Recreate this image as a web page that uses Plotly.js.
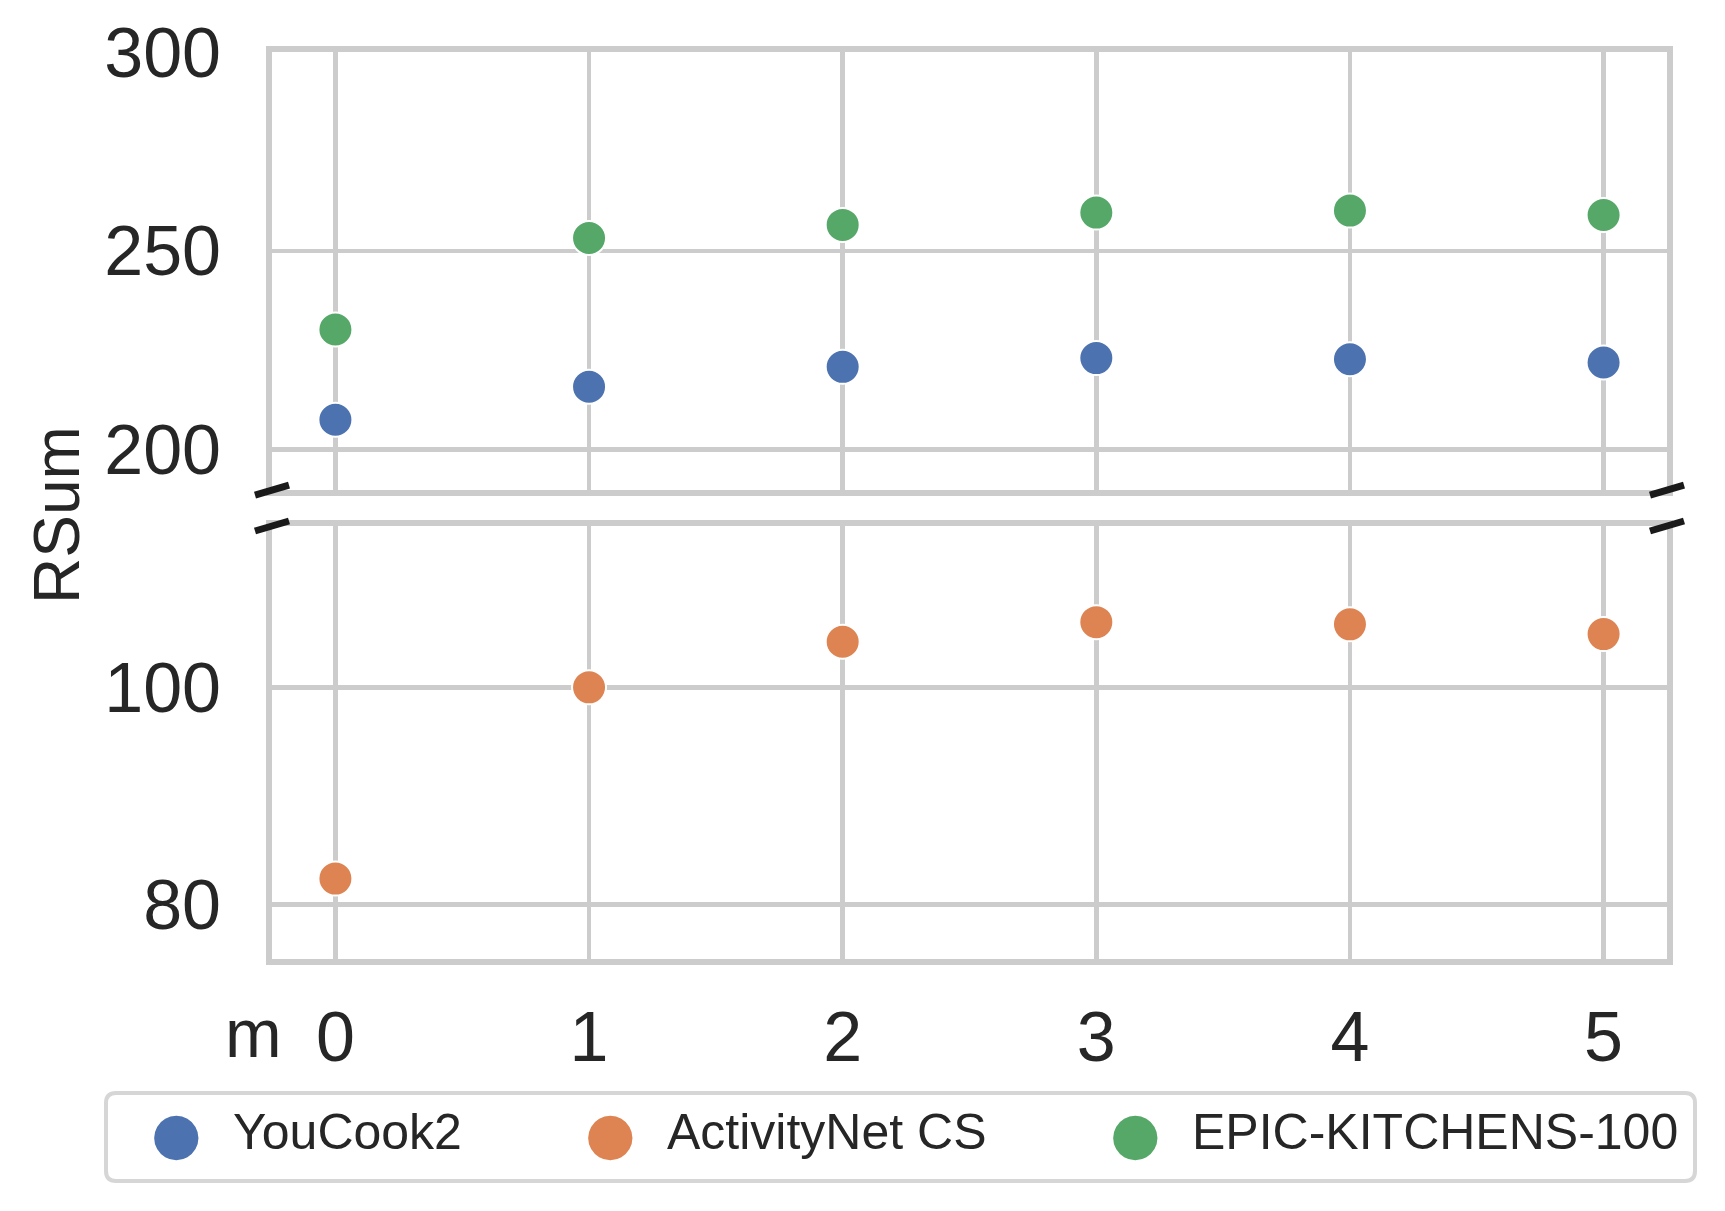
<!DOCTYPE html>
<html>
<head>
<meta charset="utf-8">
<script src="https://cdn.plot.ly/plotly-3.0.1.min.js"></script>
<style>
  html, body { margin: 0; padding: 0; background: #fff; }
  #chart { width: 1725px; height: 1211px; }
</style>
</head>
<body>
<div id="chart"></div>
<script>
    // number of memory steps m
    var mValues = [0, 1, 2, 3, 4, 5];

    // RSum per dataset
    var youCook2 = [207.5, 215.8, 220.8, 223.0, 222.7, 221.9];
    var activityNet = [82.4, 100.0, 104.2, 106.0, 105.8, 104.9];
    var epicKitchens = [230.2, 253.2, 256.5, 259.6, 260.1, 259.0];

    var seriesNames = ['YouCook2', 'ActivityNet CS', 'EPIC-KITCHENS-100'];
    var seriesColors = ['#4c72b0', '#dd8452', '#55a868'];

    var topTicks = [200, 250, 300];
    var bottomTicks = [80, 100];

    var W = 1725, H = 1211;
    var margin = {l: 272, r: 58, t: 52, b: 252};
    var plotW = W - margin.l - margin.r;
    var plotH = H - margin.t - margin.b;

    // pixel -> paper helpers (for legend/labels only)
    function px(x) { return (x - margin.l) / plotW; }
    function py(y) { return (H - margin.b - y) / plotH; }

    var textColor = '#262626';
    var gridColor = '#cccccc';
    var fontFamily = 'Liberation Sans, Arial, sans-serif';

    function markerFor(i) {
        return {color: seriesColors[i], size: 34, line: {color: '#ffffff', width: 2}};
    }

    var trace1 = {
        x: mValues, y: youCook2, name: seriesNames[0],
        mode: 'markers', type: 'scatter', marker: markerFor(0),
        xaxis: 'x2', yaxis: 'y2'
    };
    var trace2 = {
        x: mValues, y: activityNet, name: seriesNames[1],
        mode: 'markers', type: 'scatter', marker: markerFor(1),
        xaxis: 'x', yaxis: 'y'
    };
    var trace3 = {
        x: mValues, y: epicKitchens, name: seriesNames[2],
        mode: 'markers', type: 'scatter', marker: markerFor(2),
        xaxis: 'x2', yaxis: 'y2'
    };
    var data = [trace1, trace2, trace3];

    var axisCommon = {
        showgrid: true,
        gridcolor: gridColor,
        gridwidth: 4.5,
        zeroline: false,
        showline: true,
        mirror: true,
        linecolor: gridColor,
        linewidth: 6,
        ticks: '',
        tickfont: {family: fontFamily, size: 70, color: textColor}
    };

    // break marks on both sides of the gap
    var breakLine = {color: '#1a1a1a', width: 7};
    var shapes = [];
    [0, 1].forEach(function (side) {
        shapes.push({type: 'line', xref: 'x domain', yref: 'y2 domain',
            xsizemode: 'pixel', ysizemode: 'pixel', xanchor: side, yanchor: 0,
            x0: -17, x1: 17, y0: -5, y1: 5, line: breakLine});
        shapes.push({type: 'line', xref: 'x domain', yref: 'y domain',
            xsizemode: 'pixel', ysizemode: 'pixel', xanchor: side, yanchor: 1,
            x0: -17, x1: 17, y0: -5, y1: 5, line: breakLine});
    });

    // legend frame with rounded corners
    var bx0 = px(106), bx1 = px(1695), by0 = py(1181), by1 = py(1093);
    var rx = 10 / plotW, ry = 10 / plotH;
    shapes.push({type: 'path', xref: 'paper', yref: 'paper',
        path: 'M ' + (bx0 + rx) + ',' + by0 +
              ' L ' + (bx1 - rx) + ',' + by0 +
              ' Q ' + bx1 + ',' + by0 + ' ' + bx1 + ',' + (by0 + ry) +
              ' L ' + bx1 + ',' + (by1 - ry) +
              ' Q ' + bx1 + ',' + by1 + ' ' + (bx1 - rx) + ',' + by1 +
              ' L ' + (bx0 + rx) + ',' + by1 +
              ' Q ' + bx0 + ',' + by1 + ' ' + bx0 + ',' + (by1 - ry) +
              ' L ' + bx0 + ',' + (by0 + ry) +
              ' Q ' + bx0 + ',' + by0 + ' ' + (bx0 + rx) + ',' + by0 + ' Z',
        line: {color: '#d6d6d6', width: 4}, fillcolor: '#ffffff'});

    var annotations = [
        {text: 'RSum', xref: 'paper', yref: 'paper', x: px(57), y: py(515),
         textangle: -90, showarrow: false, xanchor: 'center', yanchor: 'middle',
         font: {family: fontFamily, size: 64, color: textColor}},
        {text: 'm', xref: 'paper', yref: 'paper', x: px(253), y: py(1033),
         showarrow: false, xanchor: 'center', yanchor: 'middle',
         font: {family: fontFamily, size: 68, color: textColor}}
    ];

    // legend entries
    var legendDot = [176, 610, 1135];
    var legendText = [231, 665, 1190];
    seriesNames.forEach(function (name, i) {
        annotations.push({text: '\u25CF', xref: 'paper', yref: 'paper',
            x: px(legendDot[i]), y: py(1133), showarrow: false,
            xanchor: 'center', yanchor: 'middle',
            font: {family: 'DejaVu Sans', size: 58, color: seriesColors[i]}});
        annotations.push({text: name, xref: 'paper', yref: 'paper',
            x: px(legendText[i]), y: py(1132), showarrow: false,
            xanchor: 'left', yanchor: 'middle',
            font: {family: fontFamily, size: 50, color: textColor}});
    });

    var layout = {
        width: W,
        height: H,
        margin: margin,
        paper_bgcolor: '#ffffff',
        plot_bgcolor: '#ffffff',
        showlegend: false,
        font: {family: fontFamily, color: textColor},
        xaxis: Object.assign({}, axisCommon, {
            anchor: 'y', range: [-0.25, 5.25], tickvals: mValues,
            ticklabelstandoff: 12
        }),
        xaxis2: Object.assign({}, axisCommon, {
            anchor: 'y2', matches: 'x', range: [-0.25, 5.25], tickvals: mValues,
            showticklabels: false
        }),
        yaxis: Object.assign({}, axisCommon, {
            domain: [0, 0.4774], range: [75, 114.85], tickvals: bottomTicks,
            ticklabelstandoff: 31
        }),
        yaxis2: Object.assign({}, axisCommon, {
            domain: [0.517, 1], range: [189.8, 300], tickvals: topTicks,
            ticklabelstandoff: 31
        }),
        shapes: shapes,
        annotations: annotations
    };

    Plotly.newPlot('chart', data, layout, {staticPlot: true});
</script>
</body>
</html>
